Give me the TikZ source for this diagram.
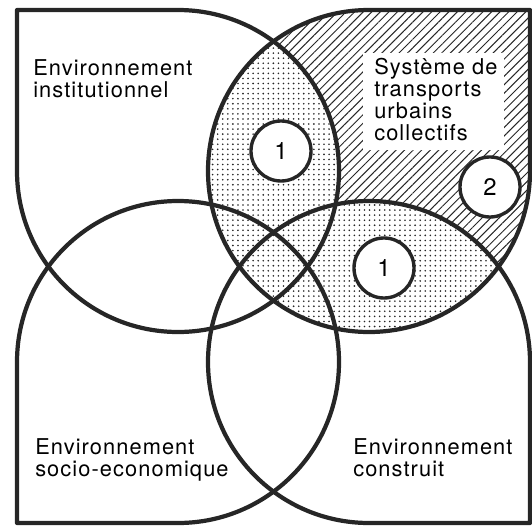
\documentclass[tikz,border=0pt]{standalone}
\usepackage{fontspec}
\usepackage{xcolor}
\usepackage{tikz}
\usetikzlibrary{patterns.meta}
\usetikzlibrary{positioning}
\newfontfamily\lblfont[LetterSpace=5]{TeX Gyre Heros}
\colorlet{ink}{black!85}
\tikzset{
    border/.style = {draw=ink, line width=3pt, line join=round},
    hatch/.style = {pattern={Lines[angle=45,distance=4.3pt,line width=0.7pt]}, pattern color=ink},
    dots/.style = {pattern={Dots[distance=3.6pt,radius=0.65pt]}, pattern color=ink},
    envtext/.style = {align=left, inner sep=0pt, anchor=north west, font=\lblfont\fontsize{15.5}{15.6}\selectfont},
    numnode/.style = {circle, draw=ink, fill=white, line width=2.4pt, minimum size=1.5cm, inner sep=0pt, font=\lblfont\fontsize{17}{17}\selectfont},
}

\begin{document}
\begin{tikzpicture}[x=0.025cm, y=0.025cm]
\useasboundingbox (0,0) rectangle (532,529);
%
% hatched corner of the transport system
\fill[hatch] (530,519) -- (530,358) arc[start angle=0, end angle=-270, radius=161] -- cycle;
\fill[white] (363,379) rectangle (504,476);
%
% dotted overlaps with the two neighbours
\begin{scope}
\clip (369,358) circle[radius=161];
\fill[white] (178,358) circle[radius=161] (369,167) circle[radius=161];
\fill[dots] (178,358) circle[radius=161] (369,167) circle[radius=161];
\end{scope}
%
% the four environments
\draw[border] (17,519) -- (178,519) arc[start angle=90, end angle=-180, radius=161] -- cycle;
\draw[border] (530,519) -- (530,358) arc[start angle=0, end angle=-270, radius=161] -- cycle;
\draw[border] (530,6) -- (369,6) arc[start angle=-90, end angle=-360, radius=161] -- cycle;
\draw[border] (17,6) -- (17,167) arc[start angle=180, end angle=-90, radius=161] -- cycle;
%
\node[envtext] (inst) at (33,470) {Environnement\\institutionnel};
\node[envtext] (tuc) at (374,471) {Système de\\transports\\urbains\\collectifs};
\node[envtext] (soc) at (35,91) {Environnement\\socio-economique};
\node[envtext] (cons) at (353,91) {Environnement\\construit};
%
\node[numnode] (onea) at (281,378) {1};
\node[numnode] (oneb) at (384,261) {1};
\node[numnode] (two) at (490,342) {2};
\end{tikzpicture}
\end{document}
